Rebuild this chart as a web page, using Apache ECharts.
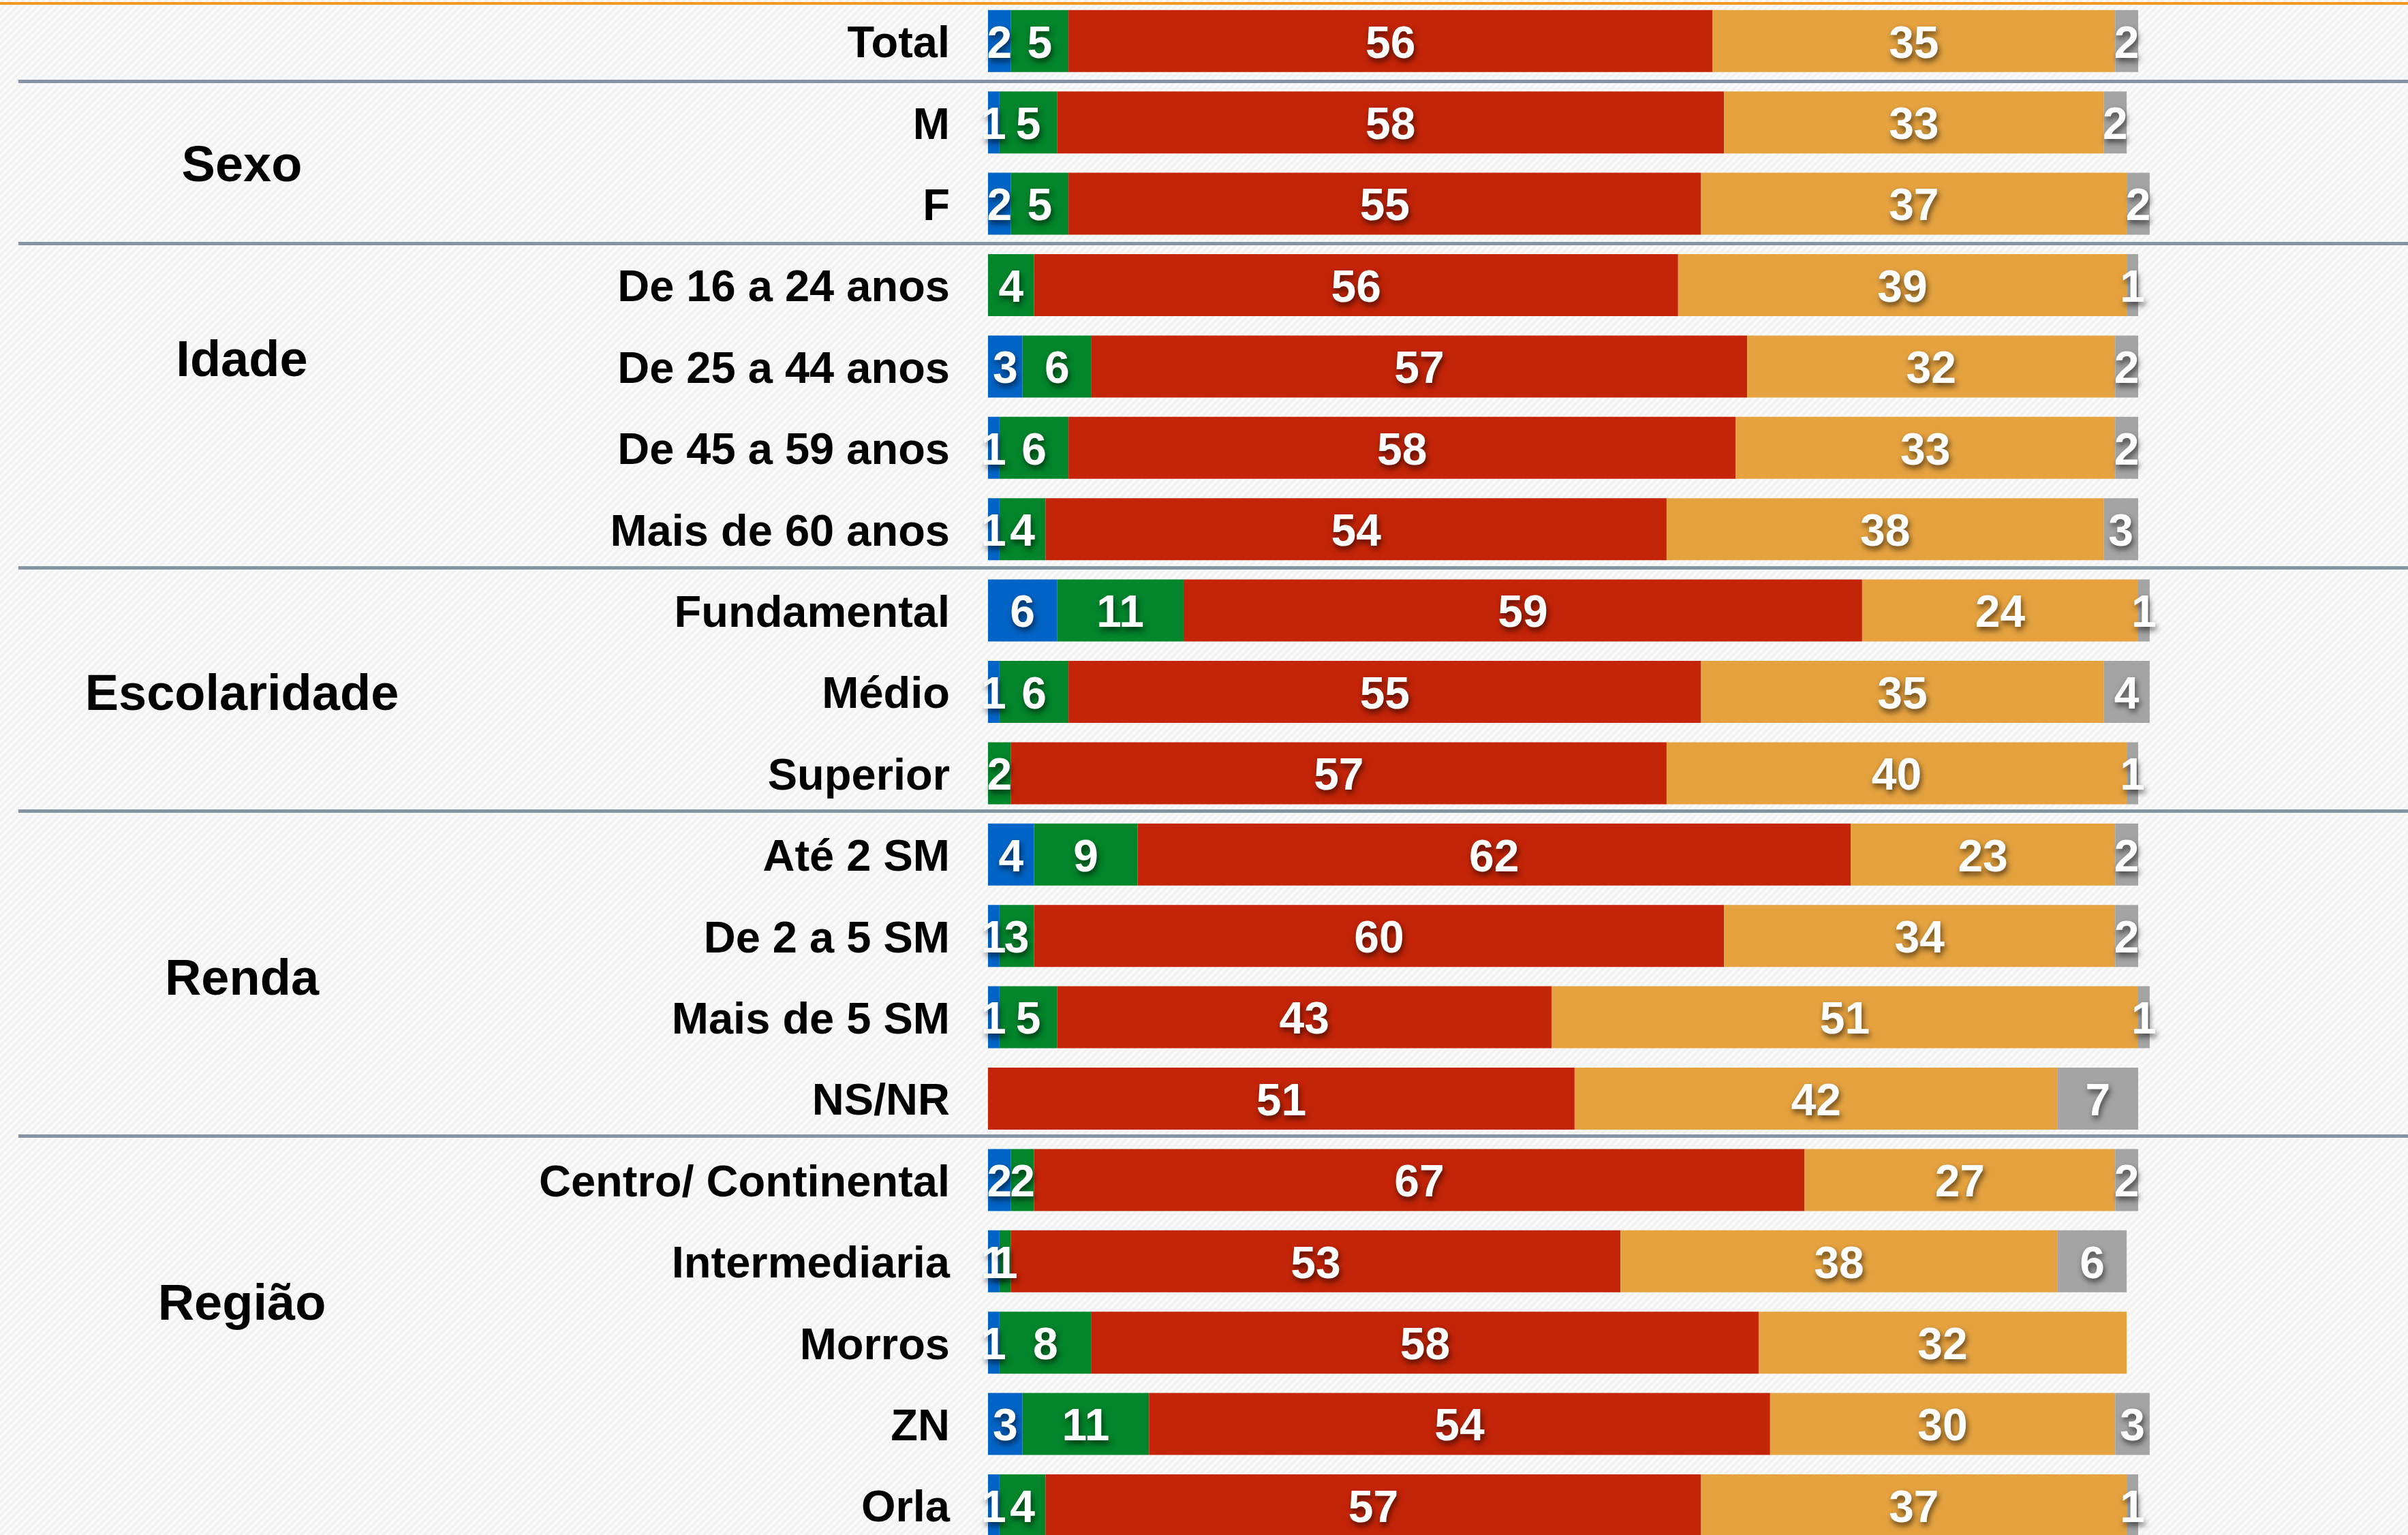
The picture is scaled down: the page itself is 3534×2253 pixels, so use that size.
<!DOCTYPE html>
<html>
<head>
<meta charset="utf-8">
<script src="https://cdn.jsdelivr.net/npm/echarts@6/dist/echarts.min.js"></script>
<style>
  html, body { margin: 0; padding: 0; }
  #main { width: 3534px; height: 2253px; }
</style>
</head>
<body>
<div id="main"></div>
<script>
// rows, top to bottom
const categories = ['Total', 'M', 'F',
  'De 16 a 24 anos', 'De 25 a 44 anos', 'De 45 a 59 anos', 'Mais de 60 anos',
  'Fundamental', 'Médio', 'Superior',
  'Até 2 SM', 'De 2 a 5 SM', 'Mais de 5 SM', 'NS/NR',
  'Centro/ Continental', 'Intermediaria', 'Morros', 'ZN', 'Orla'];

// stacked segments (percent)
const blueVals   = [2, 1, 2, 0, 3, 1, 1, 6, 1, 0, 4, 1, 1, 0, 2, 1, 1, 3, 1];
const greenVals  = [5, 5, 5, 4, 6, 6, 4, 11, 6, 2, 9, 3, 5, 0, 2, 1, 8, 11, 4];
const redVals    = [56, 58, 55, 56, 57, 58, 54, 59, 55, 57, 62, 60, 43, 51, 67, 53, 58, 54, 57];
const orangeVals = [35, 33, 37, 39, 32, 33, 38, 24, 35, 40, 23, 34, 51, 42, 27, 38, 32, 30, 37];
const grayVals   = [2, 2, 2, 1, 2, 2, 3, 1, 4, 1, 2, 2, 1, 7, 2, 6, 0, 3, 1];

const seriesNames = ['Série 1', 'Série 2', 'Série 3', 'Série 4', 'Série 5'];
const seriesColors = ['#0264c6', '#02852b', '#c42407', '#e5a23f', '#a4a4a4'];

// group titles and the (fractional) row they sit on
const groupNames = ['Sexo', 'Idade', 'Escolaridade', 'Renda', 'Região'];
const groupRows  = [1.5, 3.9, 8, 11.5, 15.5];
// first row of each group after Total (separator drawn above it)
const groupStarts = [1, 3, 7, 10, 14];

const rowPitch = 119.4;
const firstRow = 60.3;             // centre of the Total bar
const span = rowPitch * (categories.length - 1);
const unit = 16.88;                // px per percent
const textDrop = 6;                // glyphs sit a bit lower than the em-box middle

// striped background tile
const tile = document.createElement('canvas');
tile.width = 10; tile.height = 10;
const tc = tile.getContext('2d');
tc.fillStyle = '#f3f3f3';
tc.fillRect(0, 0, 10, 10);
tc.strokeStyle = '#fbfbfb';
tc.lineWidth = 3;
tc.beginPath();
tc.moveTo(-5, 5); tc.lineTo(5, -5);
tc.moveTo(0, 10); tc.lineTo(10, 0);
tc.moveTo(5, 15); tc.lineTo(15, 5);
tc.stroke();

const chart = echarts.init(document.getElementById('main'));

const valueLists = [blueVals, greenVals, redVals, orangeVals, grayVals];
const series = valueLists.map((vals, i) => ({
  name: seriesNames[i],
  type: 'bar',
  stack: 'total',
  xAxisIndex: 0,
  yAxisIndex: 0,
  barWidth: 91,
  clip: false,
  itemStyle: { color: seriesColors[i] },
  label: {
    show: true,
    position: 'inside',
    offset: [0, textDrop],
    color: '#fff',
    fontFamily: 'Liberation Sans',
    fontWeight: 'bold',
    fontSize: 66,
    textShadowColor: 'rgba(0,0,0,0.6)',
    textShadowBlur: 8,
    textShadowOffsetX: 2,
    textShadowOffsetY: 5,
    formatter: p => (p.value ? String(p.value) : '')
  },
  data: vals
}));

const graphics = [
  { type: 'rect', shape: { x: 0, y: 3, width: 3534, height: 4 }, style: { fill: '#f29a22' } }
];
groupNames.forEach((name, i) => {
  graphics.push({
    type: 'text',
    x: 355,
    y: firstRow + groupRows[i] * rowPitch + textDrop,
    style: {
      text: name,
      fill: '#000',
      font: 'bold 74px "Liberation Sans"',
      textAlign: 'center',
      textVerticalAlign: 'middle'
    }
  });
});

chart.setOption({
  backgroundColor: { image: tile, repeat: 'repeat' },
  animation: false,
  grid: [
    { left: 1450, top: firstRow, width: unit * 110, height: span },
    // separators sit just above each group's first row
    { left: 27, top: firstRow - rowPitch / 2 - 6.5, width: 3507, height: span }
  ],
  xAxis: [
    { gridIndex: 0, type: 'value', min: 0, max: 110, show: false },
    { gridIndex: 1, type: 'value', min: 0, max: 1, show: false }
  ],
  yAxis: [
    {
      gridIndex: 0,
      type: 'category',
      inverse: true,
      boundaryGap: false,
      data: categories,
      axisLine: { show: false },
      axisTick: { show: false },
      splitLine: { show: false },
      axisLabel: {
        margin: 56,
        verticalAlign: 'top',
        lineHeight: textDrop * 2,
        color: '#000',
        fontFamily: 'Liberation Sans',
        fontWeight: 'bold',
        fontSize: 65
      }
    },
    {
      gridIndex: 1,
      type: 'category',
      inverse: true,
      boundaryGap: false,
      data: categories,
      axisLine: { show: false },
      axisTick: { show: false },
      axisLabel: { show: false },
      splitLine: {
        show: true,
        interval: idx => groupStarts.indexOf(idx) >= 0,
        lineStyle: { color: '#8594a4', width: 5 }
      }
    }
  ],
  graphic: graphics,
  series: series
});
</script>
</body>
</html>
